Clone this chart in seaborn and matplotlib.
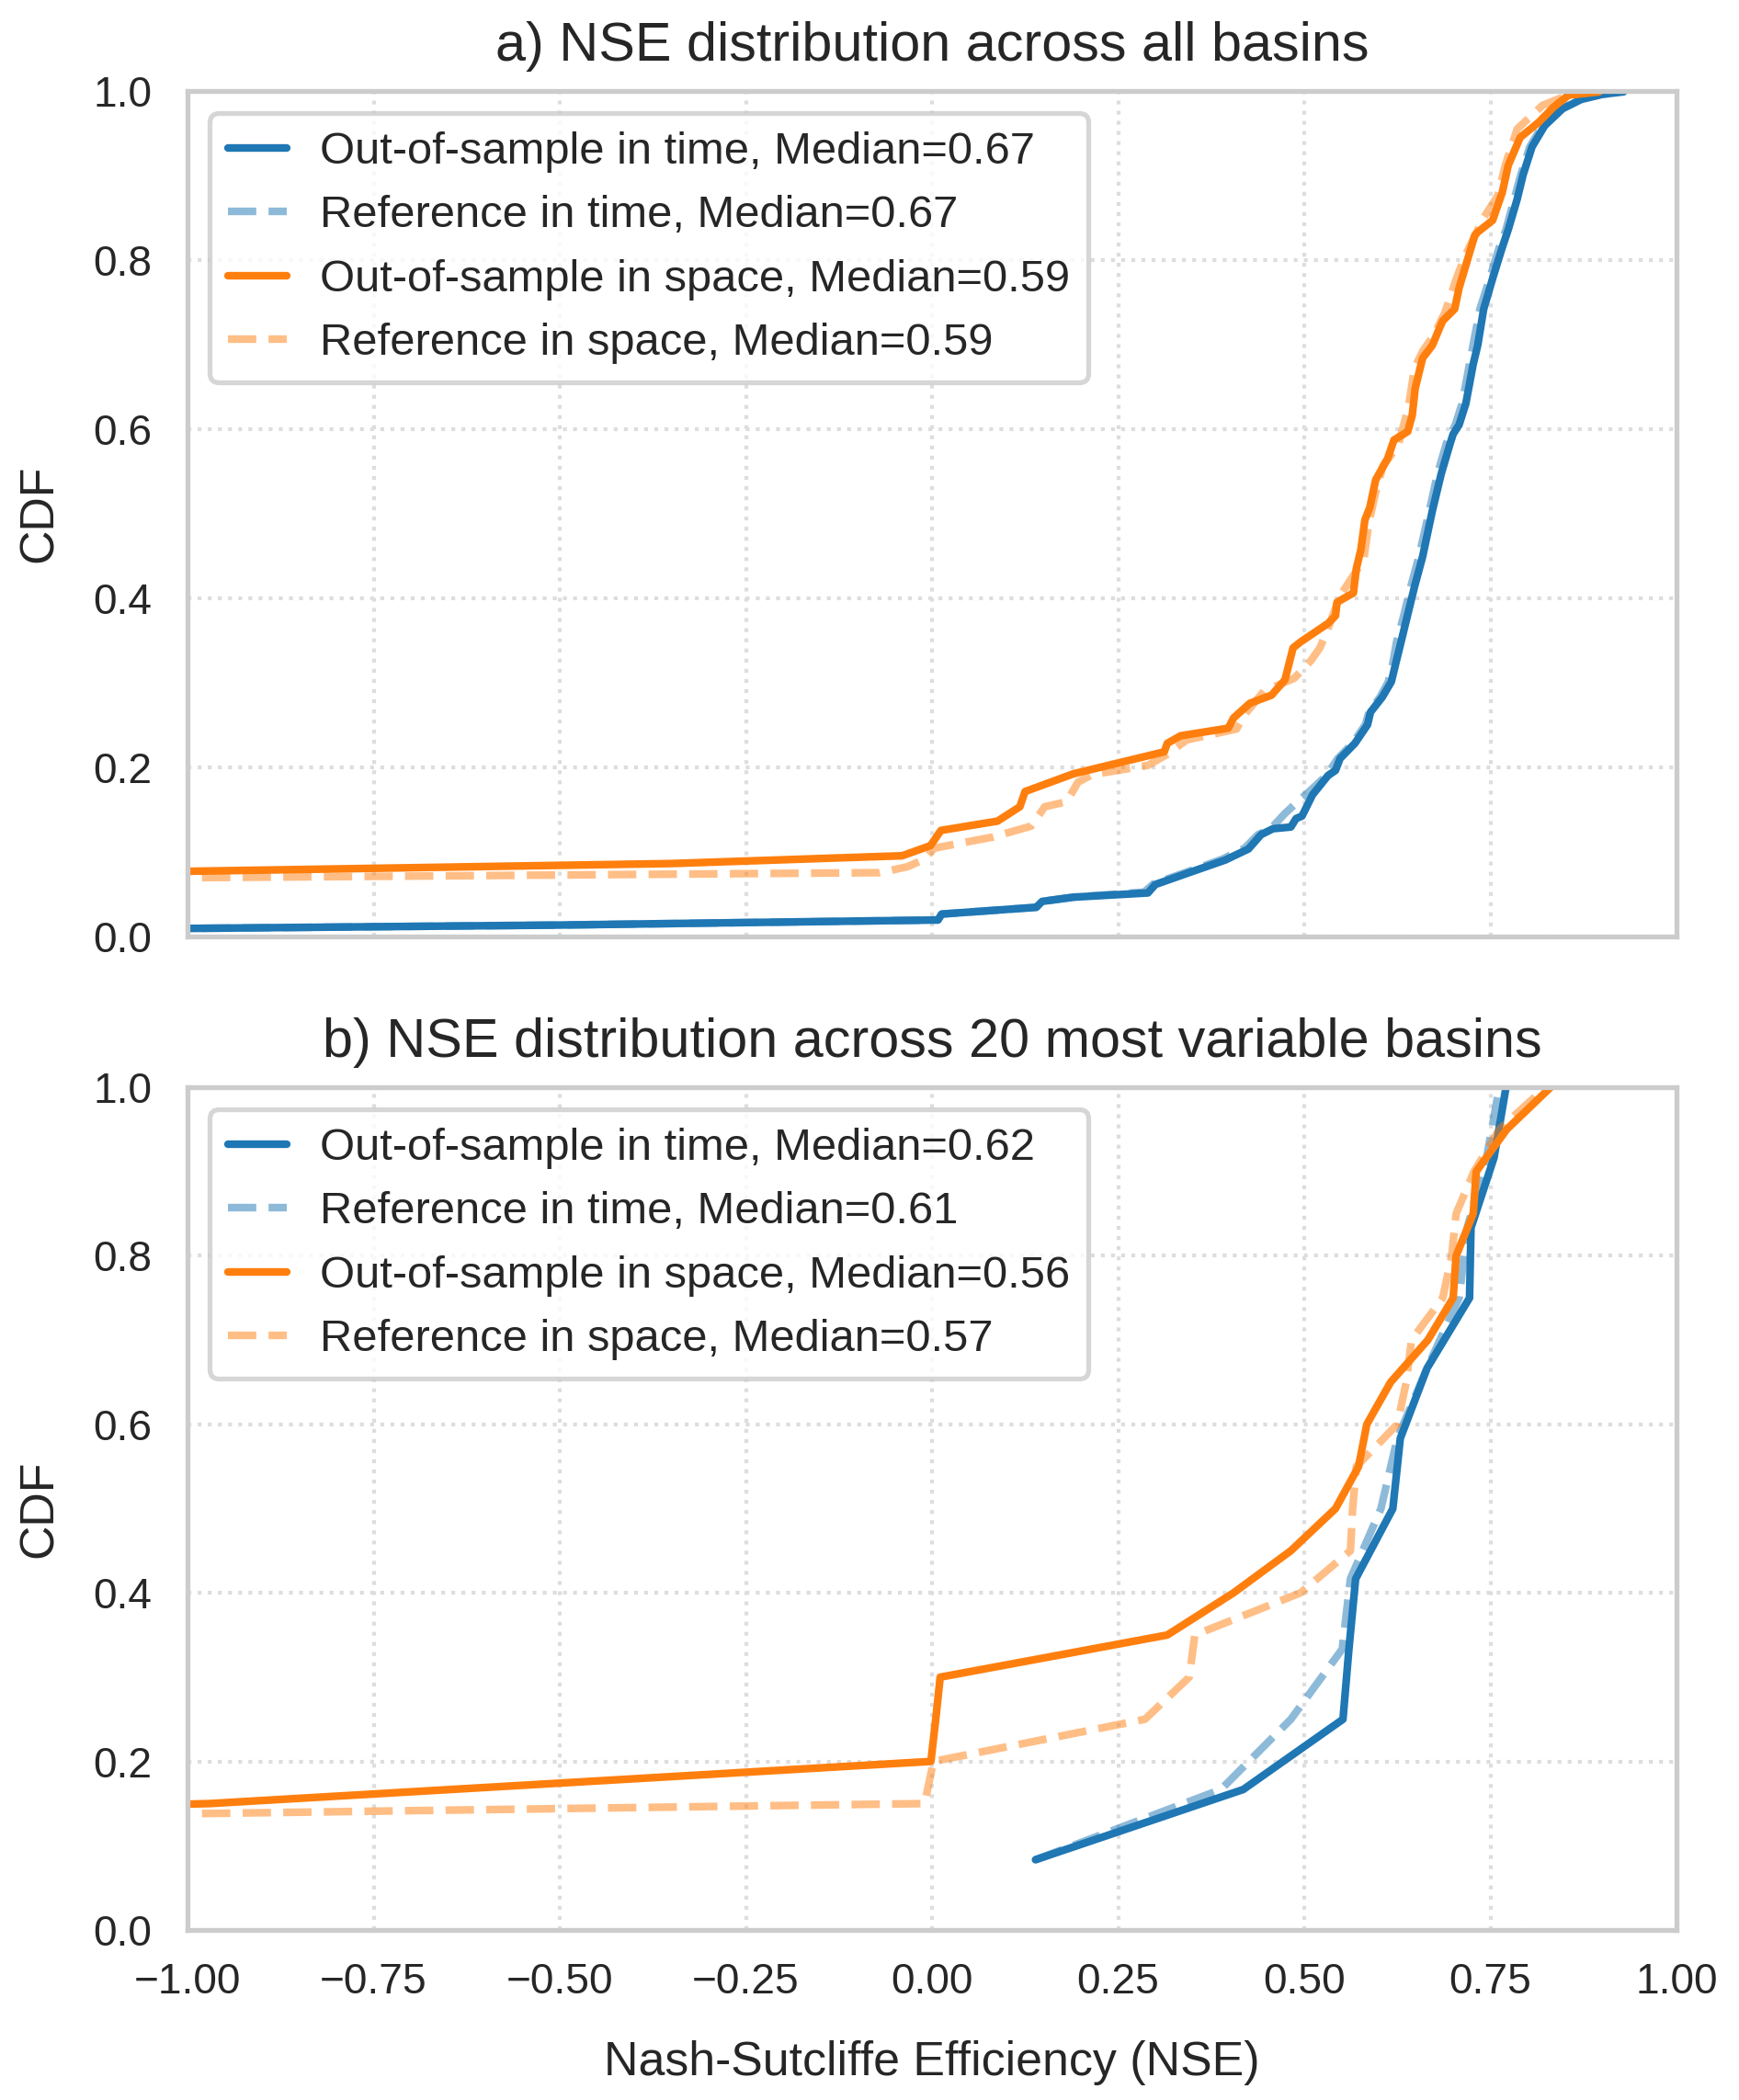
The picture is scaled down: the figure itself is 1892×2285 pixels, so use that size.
import numpy as np
import pandas as pd
import matplotlib
matplotlib.use("Agg")
import matplotlib.pyplot as plt
from matplotlib.ticker import FuncFormatter
import seaborn as sns

# ---------------- data ----------------
# Panel a: empirical CDF curves across all basins (NSE value, cumulative fraction)
a_time_oos_nse = [-1.3, -1.0, -0.5, 0.008, 0.013, 0.14, 0.148, 0.19, 0.29, 0.30, 0.342, 0.394, 0.413,
                  0.425, 0.442, 0.458, 0.482, 0.489, 0.497, 0.511, 0.532, 0.542, 0.548, 0.568, 0.585,
                  0.589, 0.605, 0.617, 0.623, 0.630, 0.638, 0.648, 0.659, 0.672, 0.684, 0.696, 0.700,
                  0.708, 0.717, 0.727, 0.733, 0.741, 0.753, 0.766, 0.774, 0.786, 0.794, 0.806, 0.823,
                  0.847, 0.872, 0.900, 0.929]
a_time_oos_cdf = [0.006, 0.009, 0.013, 0.019, 0.026, 0.034, 0.041, 0.046, 0.051, 0.061, 0.074, 0.090, 0.098,
                  0.103, 0.120, 0.127, 0.129, 0.139, 0.142, 0.167, 0.190, 0.196, 0.210, 0.228, 0.250,
                  0.265, 0.283, 0.301, 0.323, 0.348, 0.377, 0.413, 0.449, 0.503, 0.547, 0.583, 0.594,
                  0.605, 0.630, 0.677, 0.699, 0.742, 0.778, 0.815, 0.836, 0.872, 0.901, 0.934, 0.959,
                  0.979, 0.990, 0.996, 0.999]

a_time_ref_nse = [-1.3, -1.0, -0.5, 0.008, 0.013, 0.14, 0.148, 0.19, 0.285, 0.298, 0.34, 0.39, 0.42,
                  0.438, 0.455, 0.474, 0.49, 0.499, 0.508, 0.53, 0.545, 0.565, 0.582, 0.587, 0.602,
                  0.613, 0.619, 0.624, 0.633, 0.643, 0.654, 0.668, 0.679, 0.691, 0.703, 0.712, 0.722,
                  0.736, 0.749, 0.762, 0.771, 0.782, 0.791, 0.803, 0.820, 0.845, 0.870, 0.900, 0.925]
a_time_ref_cdf = [0.006, 0.009, 0.013, 0.019, 0.026, 0.034, 0.041, 0.046, 0.052, 0.062, 0.075, 0.091, 0.104,
                  0.120, 0.127, 0.145, 0.158, 0.165, 0.172, 0.190, 0.210, 0.228, 0.250, 0.265, 0.283,
                  0.301, 0.323, 0.348, 0.377, 0.413, 0.449, 0.503, 0.547, 0.583, 0.605, 0.630, 0.677,
                  0.742, 0.778, 0.815, 0.836, 0.872, 0.901, 0.934, 0.959, 0.979, 0.990, 0.996, 0.999]

a_space_oos_nse = [-1.3, -1.0, -0.35, -0.04, -0.002, 0.012, 0.088, 0.118, 0.125, 0.19, 0.312, 0.316,
                   0.334, 0.398, 0.405, 0.427, 0.456, 0.474, 0.485, 0.495, 0.532, 0.542, 0.544, 0.566,
                   0.570, 0.576, 0.5815, 0.588, 0.596, 0.612, 0.6205, 0.639, 0.645, 0.649, 0.659, 0.672,
                   0.682, 0.686, 0.702, 0.708, 0.729, 0.733, 0.753, 0.766, 0.774, 0.790, 0.815, 0.835,
                   0.855, 0.896]
a_space_oos_cdf = [0.073, 0.0766, 0.0858, 0.095, 0.107, 0.125, 0.136, 0.153, 0.171, 0.192, 0.218, 0.228,
                   0.237, 0.246, 0.258, 0.2755, 0.285, 0.303, 0.341, 0.348, 0.370, 0.379, 0.395, 0.406,
                   0.435, 0.457, 0.4925, 0.507, 0.540, 0.565, 0.587, 0.597, 0.616, 0.648, 0.684, 0.699,
                   0.720, 0.728, 0.742, 0.767, 0.829, 0.833, 0.847, 0.880, 0.912, 0.945, 0.963, 0.981,
                   0.995, 0.999]

a_space_ref_nse = [-1.3, -1.0, -0.07, -0.033, -0.01, 0.003, 0.081, 0.133, 0.1515, 0.181, 0.196, 0.215,
                   0.29, 0.316, 0.342, 0.409, 0.42, 0.446, 0.4865, 0.509, 0.521, 0.5315, 0.548, 0.564,
                   0.58, 0.587, 0.596, 0.606, 0.626, 0.640, 0.648, 0.659, 0.674, 0.689, 0.704, 0.715,
                   0.737, 0.741, 0.760, 0.770, 0.786, 0.820, 0.857, 0.890]
a_space_ref_cdf = [0.067, 0.069, 0.075, 0.082, 0.091, 0.104, 0.117, 0.130, 0.153, 0.159, 0.182, 0.191,
                   0.202, 0.215, 0.232, 0.245, 0.262, 0.290, 0.305, 0.326, 0.341, 0.363, 0.4025, 0.424,
                   0.446, 0.490, 0.525, 0.557, 0.580, 0.626, 0.672, 0.692, 0.711, 0.738, 0.777, 0.803,
                   0.843, 0.850, 0.876, 0.912, 0.955, 0.983, 0.996, 0.999]

# Panel b: sorted per-basin NSE of the 20 most variable basins
b_time_oos = [0.139, 0.418, 0.552, 0.560, 0.569, 0.619, 0.629, 0.665, 0.722, 0.724, 0.755, 0.771]
b_time_ref = [0.139, 0.388, 0.482, 0.551, 0.562, 0.603, 0.625, 0.665, 0.708, 0.719, 0.745, 0.762]
b_space_oos = [-6.5, -3.2, -0.97, -0.0015, 0.005, 0.011, 0.316, 0.405, 0.482, 0.542,
               0.573, 0.584, 0.616, 0.666, 0.700, 0.704, 0.727, 0.731, 0.772, 0.831]
b_space_ref = [-9.0, -4.1, -0.01, 0.002, 0.286, 0.3455, 0.353, 0.495, 0.562, 0.565,
               0.570, 0.625, 0.637, 0.644, 0.686, 0.698, 0.704, 0.728, 0.762, 0.824]

a_labels = ["Out-of-sample in time, Median=0.67", "Reference in time, Median=0.67",
            "Out-of-sample in space, Median=0.59", "Reference in space, Median=0.59"]
b_labels = ["Out-of-sample in time, Median=0.62", "Reference in time, Median=0.61",
            "Out-of-sample in space, Median=0.56", "Reference in space, Median=0.57"]
titles = ["a) NSE distribution across all basins",
          "b) NSE distribution across 20 most variable basins"]
x_ticks = [-1.0, -0.75, -0.5, -0.25, 0.0, 0.25, 0.5, 0.75, 1.0]
y_ticks = [0.0, 0.2, 0.4, 0.6, 0.8, 1.0]

# ---------------- style ----------------
sns.set_theme(style="whitegrid", context="talk")
plt.rcParams["font.family"] = ["Liberation Sans", "DejaVu Sans"]

DPI = 200
W, H = 1892, 2285
fig = plt.figure(figsize=(W / DPI, H / DPI), dpi=DPI)
ax_a = fig.add_axes([204 / W, 1 - 1018.5 / H, (1824 - 204) / W, (1018.5 - 99) / H])
ax_b = fig.add_axes([204 / W, 1 - 2100 / H, (1824 - 204) / W, (2100 - 1183) / H])

C0 = "#1f77b4"
C1 = "#ff7f0e"
LW = 3.0
TXT = "#262626"


def ecdf(vals):
    v = np.sort(np.asarray(vals, dtype=float))
    return v, np.arange(1, len(v) + 1) / len(v)


def fmt(decimals):
    return FuncFormatter(lambda v, p: f"{v:.{decimals}f}".replace("-", "\u2212"))


def draw(ax, series, labels, title):
    styles = [(C0, "-", 1.0), (C0, "--", 0.5), (C1, "-", 1.0), (C1, "--", 0.5)]
    for (x, y), lab, (c, ls, al) in zip(series, labels, styles):
        df = pd.DataFrame({"NSE": x, "CDF": y})
        sns.lineplot(data=df, x="NSE", y="CDF", ax=ax, color=c, linestyle=ls, alpha=al,
                     linewidth=LW, label=lab, estimator=None, sort=False)
    ax.set_xlim(-1, 1)
    ax.set_ylim(0, 1)
    ax.set_xticks(x_ticks)
    ax.set_yticks(y_ticks)
    ax.xaxis.set_major_formatter(fmt(2))
    ax.yaxis.set_major_formatter(fmt(1))
    ax.grid(True, linestyle=":", color="#dddddd", linewidth=1.5)
    for sp in ax.spines.values():
        sp.set_color("#cccccc")
        sp.set_linewidth(1.9)
    ax.tick_params(axis="both", labelsize=16.6, length=0, colors=TXT)
    ax.tick_params(axis="y", pad=14)
    ax.tick_params(axis="x", pad=12.5)
    ax.set_ylabel("CDF", fontsize=18.7, labelpad=12, color=TXT)
    ax.set_title(title, fontsize=21.4, pad=12, color=TXT)
    leg = ax.legend(loc="upper left", fontsize=17.6, handlelength=1.3, handletextpad=0.75,
                    labelspacing=0.5, borderpad=0.4, frameon=True, fancybox=True)
    leg.get_frame().set_edgecolor("#cccccc")
    leg.get_frame().set_linewidth(1.9)
    for t in leg.get_texts():
        t.set_color(TXT)


draw(ax_a,
     [(a_time_oos_nse, a_time_oos_cdf), (a_time_ref_nse, a_time_ref_cdf),
      (a_space_oos_nse, a_space_oos_cdf), (a_space_ref_nse, a_space_ref_cdf)],
     a_labels, titles[0])
ax_a.set_xlabel("")
ax_a.tick_params(axis="x", labelbottom=False)

draw(ax_b,
     [ecdf(b_time_oos), ecdf(b_time_ref), ecdf(b_space_oos), ecdf(b_space_ref)],
     b_labels, titles[1])
ax_b.set_xlabel("Nash-Sutcliffe Efficiency (NSE)", fontsize=18.7, labelpad=15, color=TXT)

fig.savefig("out.png", dpi=DPI)
